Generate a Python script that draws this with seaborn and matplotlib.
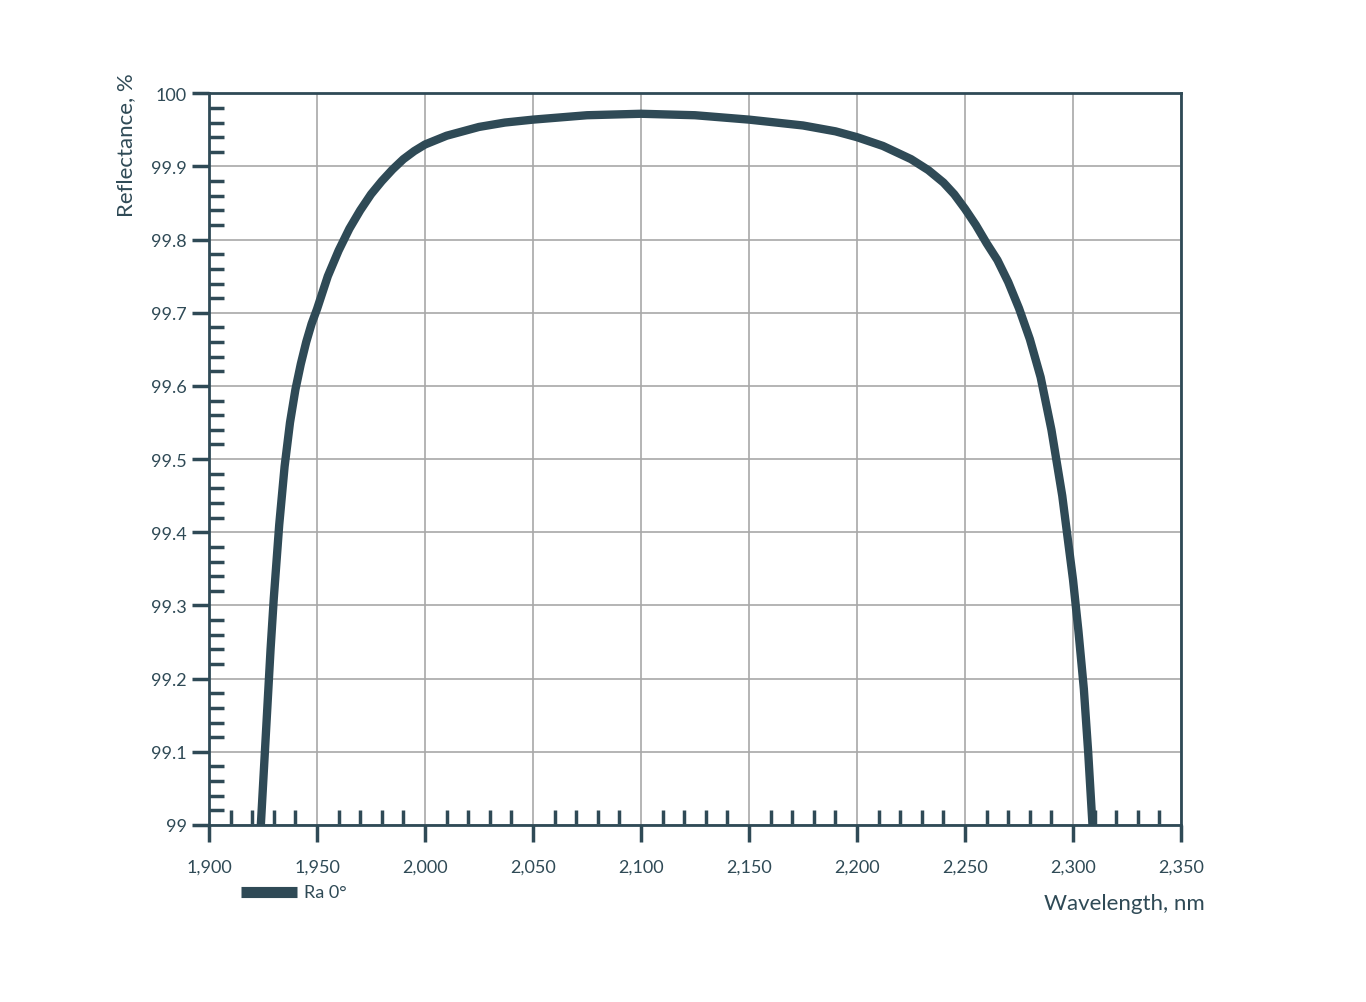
import numpy as np
import pandas as pd
import matplotlib
matplotlib.use("Agg")
import matplotlib.pyplot as plt
import seaborn as sns
from matplotlib.ticker import MultipleLocator, FuncFormatter

# data
wavelength = [1924, 1925.5, 1927, 1928.5, 1930, 1932.5, 1935, 1937.5, 1940, 1942.5, 1945, 1947.5,
              1950, 1955, 1960, 1965, 1970, 1975, 1980, 1985, 1990, 1995, 2000, 2010, 2025, 2037,
              2050, 2075, 2100, 2125, 2150, 2175, 2190, 2200, 2212, 2225, 2233, 2240, 2245, 2250,
              2255, 2260, 2265, 2270, 2275, 2280, 2285, 2290, 2295, 2300, 2302.5, 2305, 2307, 2309]
reflectance = [99.0, 99.08, 99.16, 99.24, 99.31, 99.41, 99.49, 99.55, 99.595, 99.63, 99.66, 99.685,
               99.705, 99.75, 99.785, 99.815, 99.84, 99.862, 99.88, 99.896, 99.91, 99.921, 99.93, 99.942, 99.954, 99.96,
               99.964, 99.97, 99.972, 99.97, 99.964, 99.956, 99.948, 99.94, 99.928, 99.91, 99.895, 99.878, 99.862, 99.842,
               99.82, 99.795, 99.772, 99.742, 99.706, 99.664, 99.612, 99.54, 99.45, 99.335, 99.265, 99.186, 99.1, 99.0]
series_name = "Ra 0°"

df = pd.DataFrame({"Wavelength": wavelength, "Reflectance": reflectance, "Series": series_name})

sns.set_style("white")
plt.rcParams['font.family'] = ['Lato', 'DejaVu Sans']
dark = "#2f4a56"

fig = plt.figure(figsize=(13.66, 10.03), dpi=100)
ax = fig.add_axes([0.153, 0.1765, 0.7116, 0.7295])

sns.lineplot(data=df, x="Wavelength", y="Reflectance", ax=ax, color=dark,
             linewidth=6, legend=False, zorder=3, sort=False)

ax.set_xlim(1900, 2350)
ax.set_ylim(99, 100)
ax.xaxis.set_major_locator(MultipleLocator(50))
ax.xaxis.set_minor_locator(MultipleLocator(10))
ax.yaxis.set_major_locator(MultipleLocator(0.1))
ax.yaxis.set_minor_locator(MultipleLocator(0.02))
ax.xaxis.set_major_formatter(FuncFormatter(lambda v, p: f"{int(round(v)):,}"))
ax.yaxis.set_major_formatter(FuncFormatter(lambda v, p: f"{v:g}" if abs(v - round(v)) > 1e-6 else f"{int(round(v))}"))

ax.grid(True, which="major", color="#a8a8a8", linewidth=1.2, zorder=0)
for s in ax.spines.values():
    s.set_color(dark)
    s.set_linewidth(2)
ax.tick_params(which="both", bottom=True, left=True, top=False, right=False)
ax.tick_params(which="major", direction="out", length=12, width=2.5, color=dark,
               labelsize=13, labelcolor=dark, pad=12)
ax.tick_params(which="minor", direction="in", length=11, width=2.5, color=dark)
ax.tick_params(axis="y", which="major", pad=4)

ax.set_xlabel("")
ax.set_ylabel("Reflectance, %", fontsize=16, color=dark)
ax.yaxis.set_label_coords(-0.075, 0.93)
fig.text(0.882, 0.099, "Wavelength, nm", fontsize=16, color=dark, ha="right", va="center")

# legend
fig.lines.append(plt.Line2D([241 / 1366, 297 / 1366], [0.110, 0.110], transform=fig.transFigure,
                            color=dark, linewidth=8, solid_capstyle="butt"))
fig.text(304 / 1366, 0.110, series_name, fontsize=13, color=dark, va="center")

fig.savefig("out.png", dpi=100)
